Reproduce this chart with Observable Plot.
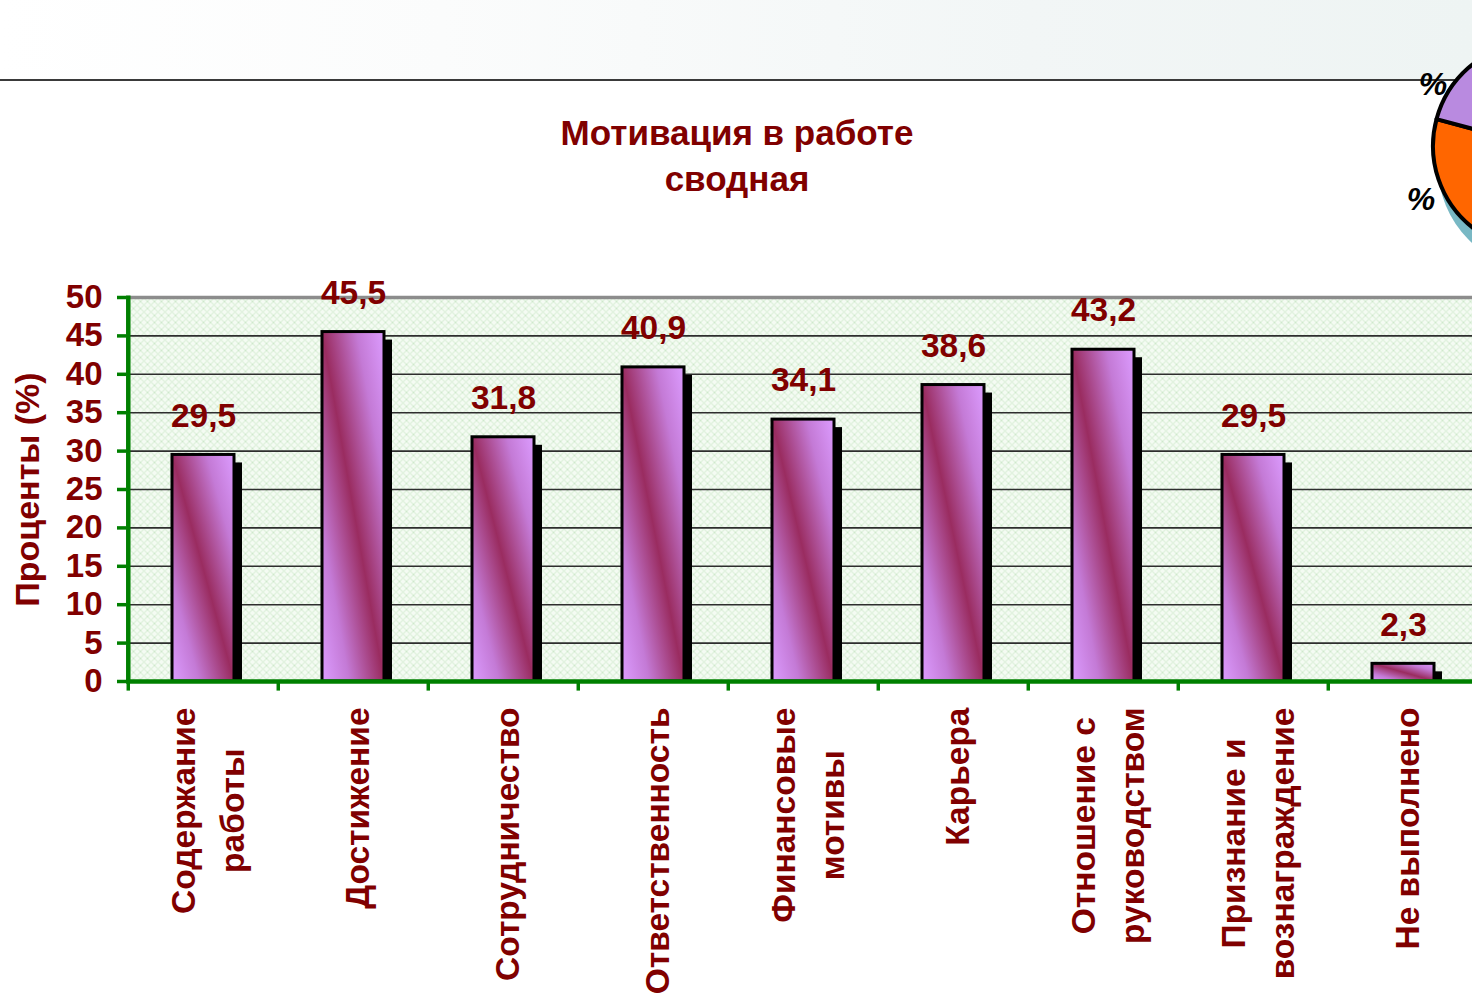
<!DOCTYPE html>
<html><head><meta charset="utf-8">
<script src="https://cdn.jsdelivr.net/npm/d3@7"></script>
<script src="https://cdn.jsdelivr.net/npm/@observablehq/plot@0.6"></script>
<style>
html,body{margin:0;padding:0;background:#fff;overflow:hidden}
#page{position:relative;width:1472px;height:999px;overflow:hidden;font-family:"Liberation Sans",Arial,sans-serif}
#band{position:absolute;left:0;top:0;width:1472px;height:79px;background:linear-gradient(90deg,#ffffff 0%,#fbfcfc 30%,#f2f6f6 70%,#eef4f3 100%);border-bottom:2px solid #3a3a3a}
#title{position:absolute;left:0;top:110px;width:1474px;text-align:center;font-weight:bold;font-size:35px;line-height:46px;color:#800000}
#chart{position:absolute;left:0;top:0}
#deco{position:absolute;left:0;top:0}
</style></head><body>
<div id="page">
 <div id="band"></div>
 <div id="chart"></div>
 <div id="title">Мотивация в работе<br>сводная</div>
 <svg id="deco" width="1472" height="999"></svg>
</div>
<script>
// ---- data ----
const categories = ["Содержание\nработы", "Достижение", "Сотрудничество", "Ответственность", "Финансовые\nмотивы", "Карьера", "Отношение с\nруководством", "Признание и\nвознаграждение", "Не выполнено"];
const values = [29.5, 45.5, 31.8, 40.9, 34.1, 38.6, 43.2, 29.5, 2.3];
const yTicks = [0, 5, 10, 15, 20, 25, 30, 35, 40, 45, 50];
const yLabel = "Проценты (%)";

// ---- layout ----
const W = 1472, H = 999;
const frameLeft = 126, frameRight = 1480, frameTop = 297, frameBottom = 681;
const step = (frameRight - frameLeft) / categories.length;
const maroon = "#800000", green = "#008000";
const font = "'Liberation Sans', Arial, sans-serif";
const catFont = 33.5;

const data = categories.map((c, i) => ({cat: c, value: values[i]}));
const fmt = v => v.toFixed(1).replace(".", ",");

const ctx = document.createElement("canvas").getContext("2d");
ctx.font = `bold ${catFont}px 'Liberation Sans'`;
const blockLen = s => d3.max(s.split("\n"), l => ctx.measureText(l).width);

const labelMarks = data.map(d => Plot.text([d], {
  x: "cat", text: "cat", frameAnchor: "bottom", rotate: -90,
  textAnchor: "middle", lineAnchor: "middle", lineHeight: 1.49,
  dy: 26 + blockLen(d.cat) / 2,
  fontSize: catFont, fontWeight: "bold", fill: maroon
}));

const chart = Plot.plot({
  width: W, height: H,
  marginLeft: frameLeft, marginRight: 0, marginTop: frameTop, marginBottom: H - frameBottom,
  style: {fontFamily: font, background: "transparent", overflow: "visible"},
  x: {domain: categories, range: [frameLeft, frameRight], paddingInner: 0.588, paddingOuter: 0.294, axis: null},
  y: {domain: [0, 50], axis: null},
  marks: [
    Plot.frame({fill: "url(#hatch)", stroke: null}),
    Plot.ruleY(yTicks.filter(d => d > 0 && d < 50), {stroke: "#2e2e2e", strokeWidth: 1.6}),
    Plot.ruleY([50], {stroke: "#8c8c8c", strokeWidth: 3.5}),
    Plot.barY(data, {x: "cat", y: "value", fill: "black", dx: 8, dy: 8, clip: "frame"}),
    Plot.barY(data, {x: "cat", y: "value", fill: "url(#barGrad)", stroke: "black", strokeWidth: 3}),
    Plot.ruleY([0], {stroke: green, strokeWidth: 4.5}),
    Plot.ruleX(categories, {x: d => d, dx: -step / 2, y1: 0, y2: -1.25, stroke: green, strokeWidth: 3.5}),
    Plot.ruleX(categories.slice(0, 1), {x: d => d, dx: -step / 2, y1: -0.2, y2: 50.2, stroke: green, strokeWidth: 4.5}),
    Plot.axisY(yTicks, {anchor: "left", label: null, tickSize: 9, tickPadding: 15,
      stroke: green, strokeWidth: 3.5, fill: maroon, fontSize: 33, fontWeight: "bold"}),
    Plot.text([yLabel], {text: d => d, frameAnchor: "left", textAnchor: "middle", dx: -98, rotate: -90,
      fontSize: 34, fontWeight: "bold", fill: maroon}),
    Plot.text(data, {x: "cat", y: "value", text: d => fmt(d.value), dy: -39,
      fontSize: 33.5, fontWeight: "bold", fill: maroon}),
    ...labelMarks
  ]
});

const defs = d3.select(chart).insert("defs", ":first-child");
const pat = defs.append("pattern").attr("id", "hatch").attr("patternUnits", "userSpaceOnUse")
  .attr("width", 7).attr("height", 7);
pat.append("rect").attr("width", 7).attr("height", 7).attr("fill", "#f4fbf3");
pat.append("path").attr("d", "M0,0L7,7M7,0L0,7").attr("stroke", "#cfe9cc").attr("stroke-width", 1);
const grad = defs.append("linearGradient").attr("id", "barGrad")
  .attr("x1", 0).attr("y1", 1).attr("x2", 1).attr("y2", 0);
[[0, "#dc9cff"], [0.22, "#c47ad6"], [0.5, "#9a2c60"], [0.78, "#c47ad6"], [1, "#dc9cff"]]
  .forEach(([o, c]) => grad.append("stop").attr("offset", o).attr("stop-color", c));

document.getElementById("chart").appendChild(chart);

// ---- decorative fragment of a neighbouring pie chart (top-right, cut off) ----
const pieSlices = [
  {start: 150, end: 285, color: "#ff6600"},
  {start: 285, end: 420, color: "#b98ae0"},
  {start: 60, end: 150, color: "#ffcc33"}
];
const deco = d3.select("#deco");
const cx = 1537, cy = 146, r = 104;
deco.append("circle").attr("cx", cx + 5).attr("cy", cy + 20).attr("r", r).attr("fill", "#78b8c4");
const arc = d3.arc().innerRadius(0).outerRadius(r);
const g = deco.append("g").attr("transform", `translate(${cx},${cy})`);
pieSlices.forEach(s => g.append("path")
  .attr("d", arc({startAngle: s.start * Math.PI / 180, endAngle: s.end * Math.PI / 180}))
  .attr("fill", s.color).attr("stroke", "black").attr("stroke-width", 4).attr("stroke-linejoin", "round"));
[[1433, 84], [1421, 199]].forEach(([x, y]) => deco.append("text")
  .attr("x", x).attr("y", y).attr("text-anchor", "middle").attr("dominant-baseline", "central")
  .attr("font-family", font).attr("font-weight", "bold").attr("font-style", "italic")
  .attr("font-size", 32).attr("fill", "black").text("%"));
</script>
</body></html>
